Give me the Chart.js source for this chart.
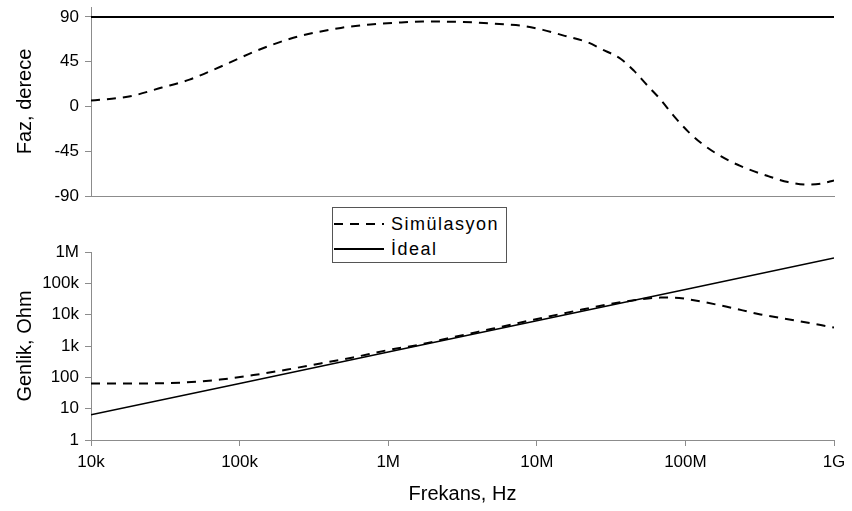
<!DOCTYPE html>
<html>
<head>
<meta charset="utf-8">
<script src="https://cdn.jsdelivr.net/npm/chart.js@4/dist/chart.umd.min.js"></script>
<style>
    html, body { margin: 0; padding: 0; background: #fff; }
    #wrap { position: relative; width: 852px; height: 511px; overflow: hidden; }
    #wrap canvas { position: absolute; left: 0; top: 0; }
    #legend {
        position: absolute; left: 332px; top: 207px; width: 173px; height: 54px;
        border: 1px solid #555; background: #fff;
        font-family: 'Liberation Sans', Arial, sans-serif; font-size: 18px; letter-spacing: 1.5px; color: #000;
    }
    #legend .item { position: absolute; left: 0; height: 24px; display: flex; align-items: center; white-space: nowrap; }
    #legend svg { display: block; margin-right: 6px; }
</style>
</head>
<body>
<div id="wrap">
    <canvas id="phaseChart" width="852" height="511"></canvas>
    <canvas id="magChart" width="852" height="511"></canvas>
    <div id="legend"></div>
</div>
<script>
// frequency axis (shared)
const freqTicks = [1e4, 1e5, 1e6, 1e7, 1e8, 1e9];
const freqLabels = ['10k', '100k', '1M', '10M', '100M', '1G'];

// phase panel
const phaseTicks = [-90, -45, 0, 45, 90];
const phaseFreq = [1e4, 1.8e4, 3e4, 4.6e4, 7.7e4, 1.3e5, 2.3e5, 4.8e5, 7.6e5, 1.15e6, 1.7e6, 2.4e6, 3.2e6,
    4.4e6, 6e6, 8.1e6, 1.1e7, 1.5e7, 2.2e7, 2.7e7, 3.7e7, 4.5e7, 5.6e7, 6.8e7, 8.4e7, 1.04e8, 1.27e8,
    1.73e8, 2.36e8, 3.6e8, 4.9e8, 6.7e8, 8.2e8, 1e9];
const phaseSim = [6, 10, 19, 27, 41, 56, 69, 79, 82.5, 84.3, 85.3, 85.3, 85,
    84, 82.6, 81, 77, 71.5, 64.5, 58, 47.5, 36, 20.5, 7, -10, -25, -36.5,
    -50, -60, -70, -76, -78.6, -77.6, -74.3];
const idealPhaseFreq = [1e4, 1e9];
const idealPhase = [90, 90];

// magnitude panel
const magTicks = [1, 10, 100, 1e3, 1e4, 1e5, 1e6];
const magLabels = ['1', '10', '100', '1k', '10k', '100k', '1M'];
const magFreq = [1e4, 2.4e4, 4.4e4, 7.4e4, 1.24e5, 2.1e5, 3.5e5, 5.8e5, 9.9e5, 1.65e6, 2.5e6, 4e6,
    5.1e6, 9.5e6, 1.77e7, 3.14e7, 4.5e7, 6.8e7, 8.4e7, 1.14e8, 1.93e8, 3.2e8, 5.4e8, 1e9];
const magSim = [64, 64, 69, 85, 118, 178, 277, 430, 735, 1120, 1740, 2820,
    3600, 6900, 12800, 22000, 28800, 35000, 35000, 28800, 17600, 10200, 6600, 3900];
const idealMagFreq = [1e4, 1e5, 1e6, 1e7, 1e8, 1e9];
const idealMag = [6.4, 64, 640, 6400, 64000, 640000];

const AXIS_COLOR = '#8c8c8c';
const DASH = [9, 7];

Chart.defaults.font.family = "'Liberation Sans', Arial, sans-serif";
Chart.defaults.color = '#000';

const pts = (xs, ys) => xs.map((x, i) => ({ x, y: ys[i] }));

// fixed left gutter so both panels line up
function fixY(scale) {
    scale.width = 91;
    scale.paddingTop = 0;
    scale.paddingBottom = 0;
}

function fixX(height) {
    return scale => {
        scale.height = height;
        scale.paddingLeft = 0;
        scale.paddingRight = 0;
    };
}

function setTicks(values) {
    return scale => { scale.ticks = values.map(v => ({ value: v })); };
}

const baseOpts = {
    responsive: false,
    animation: false,
    devicePixelRatio: 1,
    events: [],
    plugins: { legend: { display: false }, tooltip: { enabled: false } },
    elements: { point: { radius: 0 } }
};

const phaseChart = new Chart(document.getElementById('phaseChart'), {
    type: 'line',
    data: {
        datasets: [
            { label: 'Simülasyon', data: pts(phaseFreq, phaseSim), borderColor: '#000', borderWidth: 2,
              borderDash: DASH, cubicInterpolationMode: 'monotone' },
            { label: 'İdeal', data: pts(idealPhaseFreq, idealPhase), borderColor: '#000', borderWidth: 2 }
        ]
    },
    options: {
        ...baseOpts,
        layout: { padding: { top: 7, bottom: 315, left: 0, right: 18 } },
        scales: {
            x: {
                type: 'logarithmic', min: 1e4, max: 1e9,
                afterBuildTicks: setTicks(freqTicks),
                afterFit: fixX(0),
                ticks: { display: false },
                grid: { display: false },
                border: { display: true, color: AXIS_COLOR, width: 1 }
            },
            y: {
                min: -90, max: 100,
                afterBuildTicks: setTicks(phaseTicks),
                afterFit: fixY,
                ticks: { font: { size: 17 }, padding: 6 },
                grid: { drawOnChartArea: false, tickLength: 6, color: AXIS_COLOR },
                border: { color: AXIS_COLOR, width: 1 },
                title: { display: true, text: 'Faz, derece', font: { size: 20 }, padding: { top: 13, bottom: 0 } }
            }
        }
    }
});

const magChart = new Chart(document.getElementById('magChart'), {
    type: 'line',
    data: {
        datasets: [
            { label: 'Simülasyon', data: pts(magFreq, magSim), borderColor: '#000', borderWidth: 2,
              borderDash: DASH, cubicInterpolationMode: 'monotone' },
            { label: 'İdeal', data: pts(idealMagFreq, idealMag), borderColor: '#000', borderWidth: 1.5 }
        ]
    },
    options: {
        ...baseOpts,
        layout: { padding: { top: 252, bottom: 0, left: 0, right: 18 } },
        scales: {
            x: {
                type: 'logarithmic', min: 1e4, max: 1e9,
                afterBuildTicks: setTicks(freqTicks),
                afterFit: fixX(71),
                ticks: {
                    font: { size: 17 }, padding: 6, maxRotation: 0, autoSkip: false,
                    callback: v => freqLabels[freqTicks.indexOf(v)]
                },
                grid: { drawOnChartArea: false, tickLength: 6, color: AXIS_COLOR },
                border: { color: AXIS_COLOR, width: 1 },
                title: { display: true, text: 'Frekans, Hz', font: { size: 20 }, padding: { top: 0, bottom: 5 } }
            },
            y: {
                type: 'logarithmic', min: 1, max: 1e6,
                afterBuildTicks: setTicks(magTicks),
                afterFit: fixY,
                ticks: {
                    font: { size: 17 }, padding: 6, autoSkip: false,
                    callback: v => magLabels[magTicks.indexOf(v)]
                },
                grid: { drawOnChartArea: false, tickLength: 6, color: AXIS_COLOR },
                border: { color: AXIS_COLOR, width: 1 },
                title: { display: true, text: 'Genlik, Ohm', font: { size: 20 }, padding: { top: 13, bottom: 0 } }
            }
        }
    }
});

// legend box between the panels, built from the datasets
const legend = document.getElementById('legend');
magChart.data.datasets.forEach((ds, i) => {
    const item = document.createElement('div');
    item.className = 'item';
    item.style.top = (4 + i * 25) + 'px';
    const dash = ds.borderDash ? ds.borderDash.join(' ') : 'none';
    item.innerHTML = `<svg width="52" height="10"><line x1="1" y1="5" x2="51" y2="5" stroke="#000"
        stroke-width="2" stroke-dasharray="${dash}"/></svg><span>${ds.label}</span>`;
    legend.appendChild(item);
});
</script>
</body>
</html>
